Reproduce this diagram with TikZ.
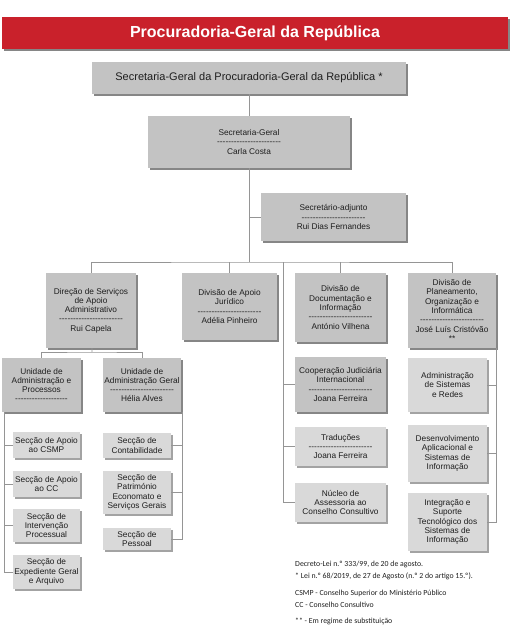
\documentclass[tikz,border=0pt]{standalone}
\usepackage{fontspec}
\setmainfont{Liberation Sans}[Ligatures=TeXOff]
\newfontfamily\notefont{Carlito}
\usetikzlibrary{positioning, shadows}
\definecolor{bannerred}{HTML}{C9212B}
\definecolor{boxgray}{HTML}{C3C3C3}
\definecolor{shadowgray}{HTML}{868686}
\definecolor{subgray}{HTML}{D9D9D9}
\definecolor{subshadow}{HTML}{A3A3A3}
\definecolor{linegray}{HTML}{959595}
\definecolor{textgray}{HTML}{1E1E1E}
\newcommand{\traco}{-----------------------}
\tikzset{
box/.style={
  inner sep=1pt,
  align=center,
  text=textgray,
  font=\fontsize{8.3}{9.3}\selectfont
  },
block/.style={
  box,
  fill=boxgray,
  general shadow={fill=shadowgray, shadow xshift=1.5pt, shadow yshift=-1.5pt}
  },
subblock/.style={
  box,
  fill=subgray,
  general shadow={fill=subshadow, shadow xshift=1.5pt, shadow yshift=-1.5pt}
  },
note/.style={anchor=west, inner sep=0pt, text=textgray, font=\notefont\fontsize{7.8}{10}\selectfont},
line/.style={draw=linegray, line width=0.8pt}
}

\begin{document}
\begin{tikzpicture}[x=1pt, y=-1pt]
\useasboundingbox (0,0) rectangle (512,632);

% topo
\node[fill=bannerred, text=white, font=\bfseries\fontsize{16}{18}\selectfont,
      general shadow={fill=shadowgray, shadow xshift=2pt, shadow yshift=-2pt},
      minimum width=506pt, minimum height=32pt]	(banner)	at (255,33)		{Procuradoria-Geral da República};
\node[block, font=\fontsize{11}{13}\selectfont, minimum width=314pt, minimum height=32pt]	(pgr)	at (249,78)	{Secretaria-Geral da Procuradoria-Geral da República *};
\node[block, minimum width=202pt, minimum height=52pt]	(secgeral)	at (249,142)		{Secretaria-Geral \\ \traco \\ Carla Costa};
\node[block, minimum width=145pt, minimum height=48pt]	(adjunto)	at (333.5,217)	{Secretário-adjunto \\ \traco \\ Rui Dias Fernandes};

% direcao e divisoes
\node[block, minimum width=90pt, minimum height=75pt]	(admin)		at (91,310.5)	{Direção de Serviços \\ de Apoio \\ Administrativo \\ \traco \\ Rui Capela};
\node[block, minimum width=95pt, minimum height=67pt]	(legal)		at (229.5,306.5)	{Divisão de Apoio \\ Jurídico \\ \traco \\ Adélia Pinheiro};
\node[block, minimum width=91pt, minimum height=69pt]	(docs)		at (340.5,307.5)	{Divisão de \\ Documentação e \\ Informação \\ \traco \\ António Vilhena};
\node[block, minimum width=88pt, minimum height=75pt]	(planning)	at (452,310.5)	{Divisão de \\ Planeamento, \\ Organização e \\ Informática \\ \traco \\ José Luís Cristóvão \\ **};

% unidades
\node[block, minimum width=79pt, minimum height=54pt]	(process)	at (41.5,385)	{Unidade de \\ Administração e \\ Processos \\ -------------------};
\node[block, minimum width=78pt, minimum height=54pt]	(general)	at (142,385)		{Unidade de \\ Administração Geral \\ \traco \\ Hélia Alves};

% seccoes
\node[subblock, minimum width=67pt, minimum height=26pt]	(csmp)		at (46.5,445)	{Secção de Apoio \\ ao CSMP};
\node[subblock, minimum width=67pt, minimum height=26pt]	(cc)			at (46.5,484)	{Secção de Apoio \\ ao CC};
\node[subblock, minimum width=67pt, minimum height=33pt]	(intervention)	at (46.5,525.5)	{Secção de \\ Intervenção \\ Processual};
\node[subblock, minimum width=67pt, minimum height=34pt]	(archive)		at (46.5,572)	{Secção de \\ Expediente Geral \\ e Arquivo};
\node[subblock, minimum width=68pt, minimum height=25pt]	(accounting)	at (137,445.5)	{Secção de \\ Contabilidade};
\node[subblock, minimum width=68pt, minimum height=43pt]	(assets)		at (137,492.5)	{Secção de \\ Património \\ Economato e \\ Serviços Gerais};
\node[subblock, minimum width=68pt, minimum height=22pt]	(staff)		at (137,539)		{Secção de \\ Pessoal};

\node[block, minimum width=91pt, minimum height=55pt]		(cooperation)	at (340.5,384.5)	{Cooperação Judiciária \\ Internacional \\ \traco \\ Joana Ferreira};
\node[subblock, minimum width=91pt, minimum height=39pt]	(translation)	at (340.5,446.5)	{Traduções \\ \traco \\ Joana Ferreira};
\node[subblock, minimum width=91pt, minimum height=39pt]	(council)		at (340.5,502.5)	{Núcleo de \\ Assessoria ao \\ Conselho Consultivo};

\node[subblock, minimum width=79pt, minimum height=54pt]	(networks)	at (447.5,385)	{Administração \\ de Sistemas \\ e Redes};
\node[subblock, minimum width=79pt, minimum height=57pt]	(development)	at (447.5,453.5)	{Desenvolvimento \\ Aplicacional e \\ Sistemas de \\ Informação};
\node[subblock, minimum width=79pt, minimum height=58pt]	(support)		at (447.5,522)	{Integração e \\ Suporte \\ Tecnológico dos \\ Sistemas de \\ Informação};

% notas
\node[note]	(note1)	at (295,564)	{Decreto-Lei n.º 333/99, de 20 de agosto.};
\node[note]	(note2)	at (295,576)	{* Lei n.º 68/2019, de 27 de Agosto (n.º 2 do artigo 15.º).};
\node[note]	(note3)	at (295,593)	{CSMP - Conselho Superior do Ministério Público};
\node[note]	(note4)	at (295,605)	{CC - Conselho Consultivo};
\node[note]	(note5)	at (295,621)	{** - Em regime de substituição};

% ligacoes
\coordinate (bus)		at (249,262);
\coordinate (docsbus)	at (283,262);
\coordinate (adminbus)	at (92,352);
\coordinate (processbus)	at (4,412);
\coordinate (generalbus)	at (182,412);
\coordinate (planningbus)	at (496,348);

\draw[line]	(pgr)			--	(secgeral);
\draw[line]	(secgeral)		--	(bus);
\draw[line]	(secgeral.south |- adjunto.west)	--	(adjunto.west);
\draw[line]	(admin.north)	|-	(bus)	-|	(planning.north);
\draw[line]	(legal.north)	--	(legal.north |- bus);
\draw[line]	(docs.north)		--	(docs.north |- bus);

\draw[line]	(docsbus)		|-	(council.west);
\draw[line]	(docsbus |- cooperation.west)	--	(cooperation.west);
\draw[line]	(docsbus |- translation.west)	--	(translation.west);

\draw[line]	(admin)			--	(adminbus);
\draw[line]	(process.north)	|-	(adminbus)	-|	(general.north);

\draw[line]	(processbus)		|-	(archive.west);
\draw[line]	(processbus |- csmp.west)		--	(csmp.west);
\draw[line]	(processbus |- cc.west)		--	(cc.west);
\draw[line]	(processbus |- intervention.west)	--	(intervention.west);

\draw[line]	(generalbus)		|-	(staff.east);
\draw[line]	(generalbus |- accounting.east)	--	(accounting.east);
\draw[line]	(generalbus |- assets.east)	--	(assets.east);

\draw[line]	(planningbus)	|-	(support.east);
\draw[line]	(planningbus |- networks.east)	--	(networks.east);
\draw[line]	(planningbus |- development.east)	--	(development.east);
\end{tikzpicture}
\end{document}
